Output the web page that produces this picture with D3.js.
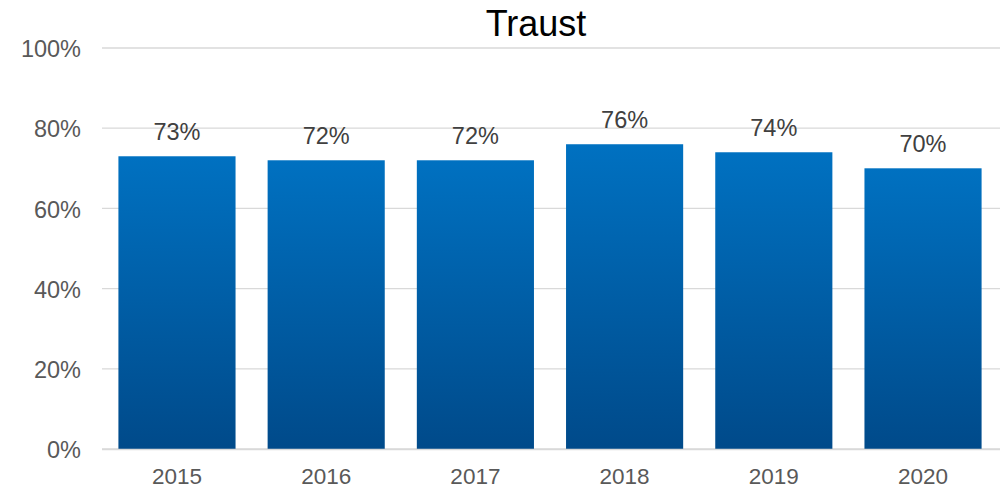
<!DOCTYPE html>
<html>
<head>
<meta charset="utf-8">
<script src="https://cdn.jsdelivr.net/npm/d3@7"></script>
<style>
  body { margin: 0; background: #fff; }
  svg text { font-family: "Liberation Sans", Arial, sans-serif; }
</style>
</head>
<body>
<svg id="chart" width="1002" height="489"></svg>
<script>
// data
years = ["2015", "2016", "2017", "2018", "2019", "2020"]
values = [0.73, 0.72, 0.72, 0.76, 0.74, 0.70]
yTicks = [0, 0.2, 0.4, 0.6, 0.8, 1.0]
title = "Traust"

svg = d3.select("#chart")

xScale = d3.scaleBand()
    .domain(years)
    .range([102, 998])
    .paddingInner(0.215)
    .paddingOuter(0.11)

yScale = d3.scaleLinear()
    .domain([0, 1])
    .range([449, 48])

// gradient for bars
grad = svg.append("defs").append("linearGradient")
    .attr("id", "barGrad")
    .attr("x1", 0).attr("y1", 0).attr("x2", 0).attr("y2", 1)
grad.append("stop").attr("offset", "0%").attr("stop-color", "#0071c1")
grad.append("stop").attr("offset", "100%").attr("stop-color", "#004a8a")

// gridlines
svg.append("g")
    .selectAll("line")
    .data(yTicks)
    .join("line")
    .attr("x1", 102)
    .attr("x2", 1000)
    .attr("y1", d => yScale(d))
    .attr("y2", d => yScale(d))
    .attr("stroke", "#d9d9d9")
    .attr("stroke-width", 1.3)

// y axis labels
yAxis = svg.append("g")
    .attr("transform", "translate(81,0)")
    .call(d3.axisLeft(yScale).tickValues(yTicks).tickFormat(d3.format(".0%")).tickSize(0).tickPadding(0))
yAxis.select(".domain").remove()
yAxis.selectAll("text")
    .attr("font-size", 23.5)
    .attr("dy", "0.37em")
    .attr("fill", "#595959")
    .attr("font-family", "Liberation Sans, Arial, sans-serif")

// bars
svg.append("g")
    .selectAll("rect")
    .data(values)
    .join("rect")
    .attr("x", (d, i) => xScale(years[i]))
    .attr("y", d => yScale(d))
    .attr("width", xScale.bandwidth())
    .attr("height", d => yScale(0) - yScale(d))
    .attr("fill", "url(#barGrad)")

// x axis
xAxis = svg.append("g")
    .attr("transform", "translate(0,449)")
    .call(d3.axisBottom(xScale).tickSize(0).tickPadding(19))
xAxis.select(".domain")
    .attr("stroke", "#d9d9d9")
    .attr("stroke-width", 1.3)
    .attr("d", "M102,0.5H1000")
xAxis.selectAll("text")
    .attr("font-size", 22.5)
    .attr("fill", "#595959")
    .attr("font-family", "Liberation Sans, Arial, sans-serif")

// value labels
svg.append("g")
    .selectAll("text")
    .data(values)
    .join("text")
    .attr("x", (d, i) => xScale(years[i]) + xScale.bandwidth() / 2)
    .attr("y", d => yScale(d) - 16)
    .attr("text-anchor", "middle")
    .attr("font-size", 23.5)
    .attr("fill", "#404040")
    .text(d => d3.format(".0%")(d))

// title
svg.append("text")
    .attr("x", 536)
    .attr("y", 36)
    .attr("text-anchor", "middle")
    .attr("font-size", 36)
    .attr("fill", "#000")
    .text(title)
</script>
</body>
</html>
